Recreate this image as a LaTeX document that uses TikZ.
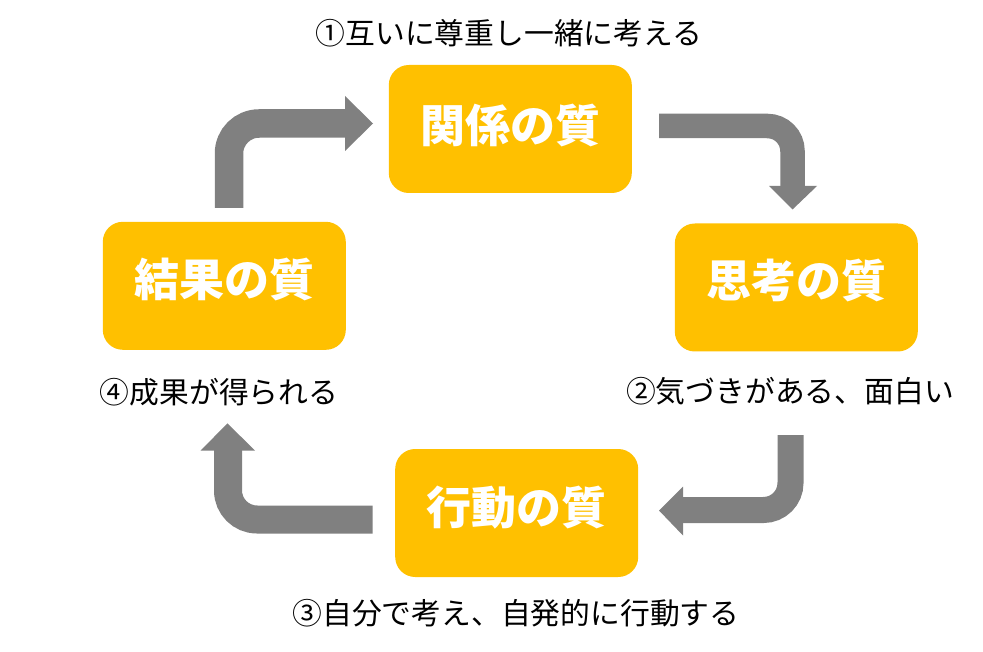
\documentclass[tikz,border=0pt]{standalone}
\usepackage{fontspec}
\newfontfamily\jp{Noto Sans CJK JP}
\definecolor{boxgold}{HTML}{FFC000}
\definecolor{arrowgray}{HTML}{808080}
\tikzset{
  qbox/.style={fill=boxgold, rounded corners=20pt, minimum width=243pt, minimum height=128pt, inner sep=0pt},
  qtext/.style={text=white, font=\jp\bfseries\fontsize{45}{49}\selectfont, inner sep=0pt},
  steplabel/.style={text=black, font=\jp\fontsize{29.8}{33}\selectfont, inner sep=0pt},
  shaft/.style={draw=arrowgray, rounded corners=#1},
  headtri/.style={fill=arrowgray}
}
\begin{document}
\begin{tikzpicture}[x=1pt,y=-1pt]
\useasboundingbox (0,0) rectangle (983,652);
% boxes
\node[qbox] (rel) at (510.3,129) {};
\node[qbox] (thk) at (796.3,287.5) {};
\node[qbox] (res) at (224.3,285.8) {};
\node[qbox] (act) at (516.7,513) {};
\node[qtext] (relt) at ([yshift=4pt]rel.center) {関係の質};
\node[qtext] (thkt) at ([yshift=7pt]thk.center) {思考の質};
\node[qtext] (rest) at ([yshift=6pt]res.center) {結果の質};
\node[qtext] (actt) at ([yshift=5pt]act.center) {行動の質};
% labels
\node[steplabel] (l1) at (509,33) {①互いに尊重し一緒に考える};
\node[steplabel] (l2) at (790,391.5) {②気づきがある、面白い};
\node[steplabel] (l3) at (516,613) {③自分で考え、自発的に行動する};
\node[steplabel] (l4) at (219,392) {④成果が得られる};
% arrow 1 (result -> relation)
\coordinate (a1s) at (229,208);
\coordinate (a1c) at (229,123.5);
\coordinate (a1e) at (345.5,123.5);
\draw[shaft=30pt, line width=28.5pt] (a1s) -- (a1c) -- (a1e);
\fill[headtri] (345,96) -- (373,123.5) -- (345,151) -- cycle;
% arrow 2 (relation -> thinking)
\coordinate (a2s) at (659,126);
\coordinate (a2c) at (792.5,126);
\coordinate (a2e) at (792.5,186.5);
\draw[shaft=25pt, line width=24.5pt] (a2s) -- (a2c) -- (a2e);
\fill[headtri] (769,186) -- (817,186) -- (792.5,209.5) -- cycle;
% arrow 3 (thinking -> action)
\coordinate (a3s) at (790.5,435);
\coordinate (a3c) at (790.5,510);
\coordinate (a3e) at (682.5,510);
\draw[shaft=27pt, line width=26pt] (a3s) -- (a3c) -- (a3e);
\fill[headtri] (683,486.5) -- (659,510.5) -- (683,535.5) -- cycle;
% arrow 4 (action -> result)
\coordinate (a4s) at (372.7,519.5);
\coordinate (a4c) at (228,519.5);
\coordinate (a4e) at (228,450.2);
\draw[shaft=29pt, line width=28pt] (a4s) -- (a4c) -- (a4e);
\fill[headtri] (200.5,450.7) -- (255,450.7) -- (227.5,423.3) -- cycle;
\end{tikzpicture}
\end{document}
